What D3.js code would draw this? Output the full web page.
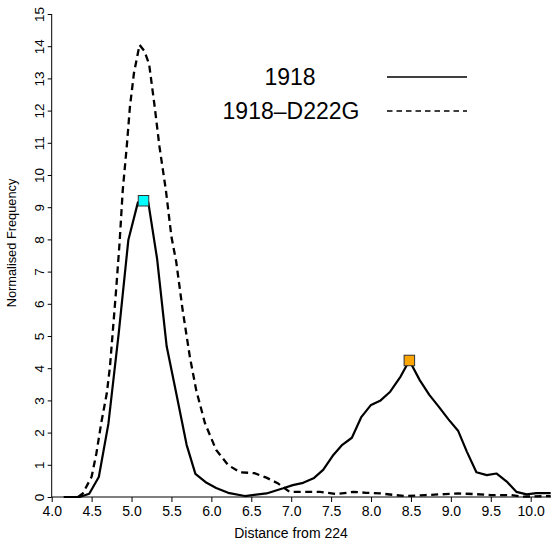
<!DOCTYPE html>
<html>
<head>
<meta charset="utf-8">
<script src="https://cdn.jsdelivr.net/npm/d3@7"></script>
<style>
  html, body { margin: 0; padding: 0; background: #fff; }
  svg { display: block; font-family: "Liberation Sans", Arial, Helvetica, sans-serif; }
</style>
</head>
<body>
<svg id="chart" width="551" height="541"></svg>
<script>
// ---- data ----
const seriesNames = ["1918", "1918\u2013D222G"];

const x1918 = [4.15, 4.35, 4.47, 4.59, 4.71, 4.84, 4.96, 5.08, 5.21, 5.32, 5.44, 5.56, 5.69, 5.80, 5.94, 6.06, 6.21, 6.42, 6.69, 6.90, 7.02, 7.15, 7.28, 7.40, 7.52, 7.64, 7.76, 7.88, 8.00, 8.12, 8.24, 8.37, 8.48, 8.61, 8.73, 8.85, 8.97, 9.09, 9.20, 9.32, 9.45, 9.57, 9.70, 9.82, 9.95, 10.07, 10.25];
const y1918 = [0.00, 0.00, 0.10, 0.62, 2.27, 5.10, 7.98, 9.15, 9.15, 7.40, 4.68, 3.22, 1.62, 0.72, 0.44, 0.28, 0.13, 0.03, 0.11, 0.27, 0.37, 0.44, 0.58, 0.84, 1.28, 1.62, 1.84, 2.49, 2.86, 3.00, 3.27, 3.74, 4.24, 3.63, 3.17, 2.80, 2.41, 2.06, 1.41, 0.77, 0.68, 0.73, 0.48, 0.16, 0.08, 0.12, 0.12];

const xD222G = [4.33, 4.39, 4.50, 4.56, 4.62, 4.69, 4.73, 4.77, 4.81, 4.85, 4.89, 4.94, 4.98, 5.03, 5.10, 5.16, 5.22, 5.29, 5.35, 5.43, 5.50, 5.56, 5.64, 5.73, 5.81, 5.92, 6.06, 6.21, 6.36, 6.54, 6.69, 6.83, 6.98, 7.15, 7.36, 7.57, 7.78, 7.94, 8.12, 8.30, 8.43, 8.68, 8.93, 9.10, 9.30, 9.50, 9.75, 9.91, 10.25];
const yD222G = [0.00, 0.11, 0.63, 1.36, 2.29, 3.22, 4.05, 5.29, 6.53, 7.89, 9.53, 10.88, 12.12, 13.16, 14.04, 13.85, 13.45, 12.12, 10.88, 9.53, 8.08, 7.30, 5.81, 4.36, 3.32, 2.29, 1.46, 0.99, 0.77, 0.74, 0.60, 0.43, 0.16, 0.16, 0.16, 0.09, 0.16, 0.13, 0.11, 0.06, 0.03, 0.06, 0.09, 0.11, 0.09, 0.06, 0.06, 0.01, 0.03];

const markerX = [5.15, 8.48];
const markerY = [9.20, 4.24];
const markerColors = ["#00ffff", "#ffa500"];

const xTicks = [4.0, 4.5, 5.0, 5.5, 6.0, 6.5, 7.0, 7.5, 8.0, 8.5, 9.0, 9.5, 10.0];
const yTicks = [0, 1, 2, 3, 4, 5, 6, 7, 8, 9, 10, 11, 12, 13, 14, 15];
const xTitle = "Distance from 224";
const yTitle = "Normalised Frequency";

// ---- drawing ----
const svg = d3.select("#chart");
const x = d3.scaleLinear().domain([4, 10]).range([51.7, 530.7]);
const y = d3.scaleLinear().domain([0, 15]).range([497, 14]);

const line = d3.line().x(d => x(d[0])).y(d => y(d[1]));
const d1918 = x1918.map((v, i) => [v, y1918[i]]);
const dD = xD222G.map((v, i) => [v, yD222G[i]]);

// x axis
const xAxis = d3.axisBottom(x).tickValues(xTicks).tickFormat(d3.format(".1f")).tickSize(5).tickSizeOuter(0);
const gx = svg.append("g").attr("transform", `translate(0,${y(0)})`).call(xAxis);
gx.select(".domain").remove();
gx.append("line").attr("x1", x(4) ).attr("x2", 551).attr("y1", 0).attr("y2", 0)
  .attr("stroke", "#000").attr("stroke-width", 1);
gx.selectAll(".tick line").attr("stroke", "#000");
gx.selectAll(".tick text").attr("font-size", 14).attr("fill", "#000").attr("dy", "0.95em").attr("y", 6);

// y axis
const yAxis = d3.axisLeft(y).tickValues(yTicks).tickFormat(d3.format("d")).tickSize(4).tickSizeOuter(0);
const gy = svg.append("g").attr("transform", `translate(${x(4)},0)`).call(yAxis);
gy.select(".domain").attr("stroke", "#000").attr("d", `M0,${y(15)}V${y(0)}`);
gy.selectAll(".tick line").attr("stroke", "#000");
gy.selectAll(".tick text")
  .attr("font-size", 13.5).attr("fill", "#000")
  .attr("x", null).attr("dy", null)
  .attr("text-anchor", "middle")
  .attr("transform", "translate(-8,0) rotate(-90)");

// titles
svg.append("text").attr("x", 291).attr("y", 538).attr("text-anchor", "middle")
  .attr("font-size", 14).text(xTitle);
svg.append("text").attr("transform", `translate(16,${243}) rotate(-90)`)
  .attr("text-anchor", "middle").attr("font-size", 12.8).text(yTitle);

// series
svg.append("path").datum(dD).attr("d", line).attr("fill", "none")
  .attr("stroke", "#000").attr("stroke-width", 2.3).attr("stroke-dasharray", "7,4.5");
svg.append("path").datum(d1918).attr("d", line).attr("fill", "none")
  .attr("stroke", "#000").attr("stroke-width", 2.2).attr("stroke-linejoin", "round");

// markers
const ms = 10.5;
svg.selectAll("rect.marker").data(markerX.map((v, i) => i)).enter().append("rect")
  .attr("class", "marker")
  .attr("x", i => x(markerX[i]) - ms / 2).attr("y", i => y(markerY[i]) - ms / 2)
  .attr("width", ms).attr("height", ms)
  .attr("fill", i => markerColors[i]).attr("stroke", "#333").attr("stroke-width", 1);

// legend
const legend = svg.append("g");
const legY = [77, 111];
const legTextX = [290, 291];
seriesNames.forEach((name, i) => {
  legend.append("text").attr("x", legTextX[i]).attr("y", legY[i] + 8)
    .attr("text-anchor", "middle").attr("font-size", 23).text(name);
  legend.append("line").attr("x1", 387).attr("x2", 467).attr("y1", legY[i]).attr("y2", legY[i])
    .attr("stroke", "#000").attr("stroke-width", 1.5)
    .attr("stroke-dasharray", i === 1 ? "5.5,4" : null);
});
</script>
</body>
</html>
